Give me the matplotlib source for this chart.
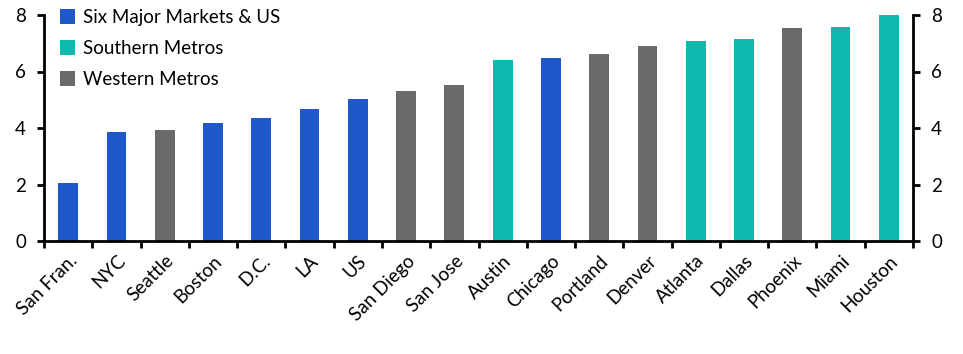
import matplotlib
matplotlib.use("Agg")
import matplotlib.pyplot as plt
from matplotlib.patches import Patch

categories = ["San Fran.", "NYC", "Seattle", "Boston", "D.C.", "LA", "US",
              "San Diego", "San Jose", "Austin", "Chicago", "Portland", "Denver",
              "Atlanta", "Dallas", "Phoenix", "Miami", "Houston"]
values = [2.04, 3.86, 3.93, 4.18, 4.35, 4.67, 5.03, 5.31, 5.52,
          6.41, 6.48, 6.62, 6.90, 7.08, 7.15, 7.54, 7.58, 8.0]
groups = ["Six", "Six", "West", "Six", "Six", "Six", "Six", "West", "West",
          "South", "Six", "West", "West", "South", "South", "West", "South", "South"]
group_labels = {"Six": "Six Major Markets & US", "South": "Southern Metros", "West": "Western Metros"}
group_colors = {"Six": "#2058CC", "South": "#0DB8AC", "West": "#6A6A6A"}
yticks = [0, 2, 4, 6, 8]

plt.rcParams['font.family'] = ['Lato', 'DejaVu Sans']

fig = plt.figure(figsize=(9.63, 3.54), dpi=100)
ax = fig.add_axes([44/963, 1-241/354, (913-44)/963, (241-15)/354])

x = list(range(len(categories)))
ax.bar(x, values, width=0.41, color=[group_colors[g] for g in groups], zorder=2)

ax.set_xlim(-0.5, len(categories) - 0.5)
ax.set_ylim(0, 8)
ax.set_yticks(yticks)
ax.set_xticks([i - 0.5 for i in range(len(categories) + 1)])
ax.set_xticklabels([])
ax.set_xticks(x, minor=True)
ax.set_xticklabels(categories, minor=True, rotation=45, ha='right',
                   rotation_mode='anchor', fontsize=13.5)
ax.tick_params(axis='x', which='minor', length=0, pad=8)
ax.tick_params(axis='x', which='major', length=5, width=2, direction='out')
ax.tick_params(axis='y', which='major', length=5, width=2, direction='out',
               left=True, right=True, labelleft=True, labelright=True,
               labelsize=13.5, pad=8)

for s in ['top']:
    ax.spines[s].set_visible(False)
for s in ['left', 'right', 'bottom']:
    ax.spines[s].set_linewidth(2)

handles = [Patch(facecolor=group_colors[k], label=group_labels[k]) for k in ["Six", "South", "West"]]
ax.legend(handles=handles, loc='upper left', bbox_to_anchor=(0.01, 1.06),
          frameon=False, fontsize=13.5, handlelength=0.8, handleheight=0.8,
          handletextpad=0.4, labelspacing=0.75, borderaxespad=0)

fig.savefig("out.png", dpi=100)
